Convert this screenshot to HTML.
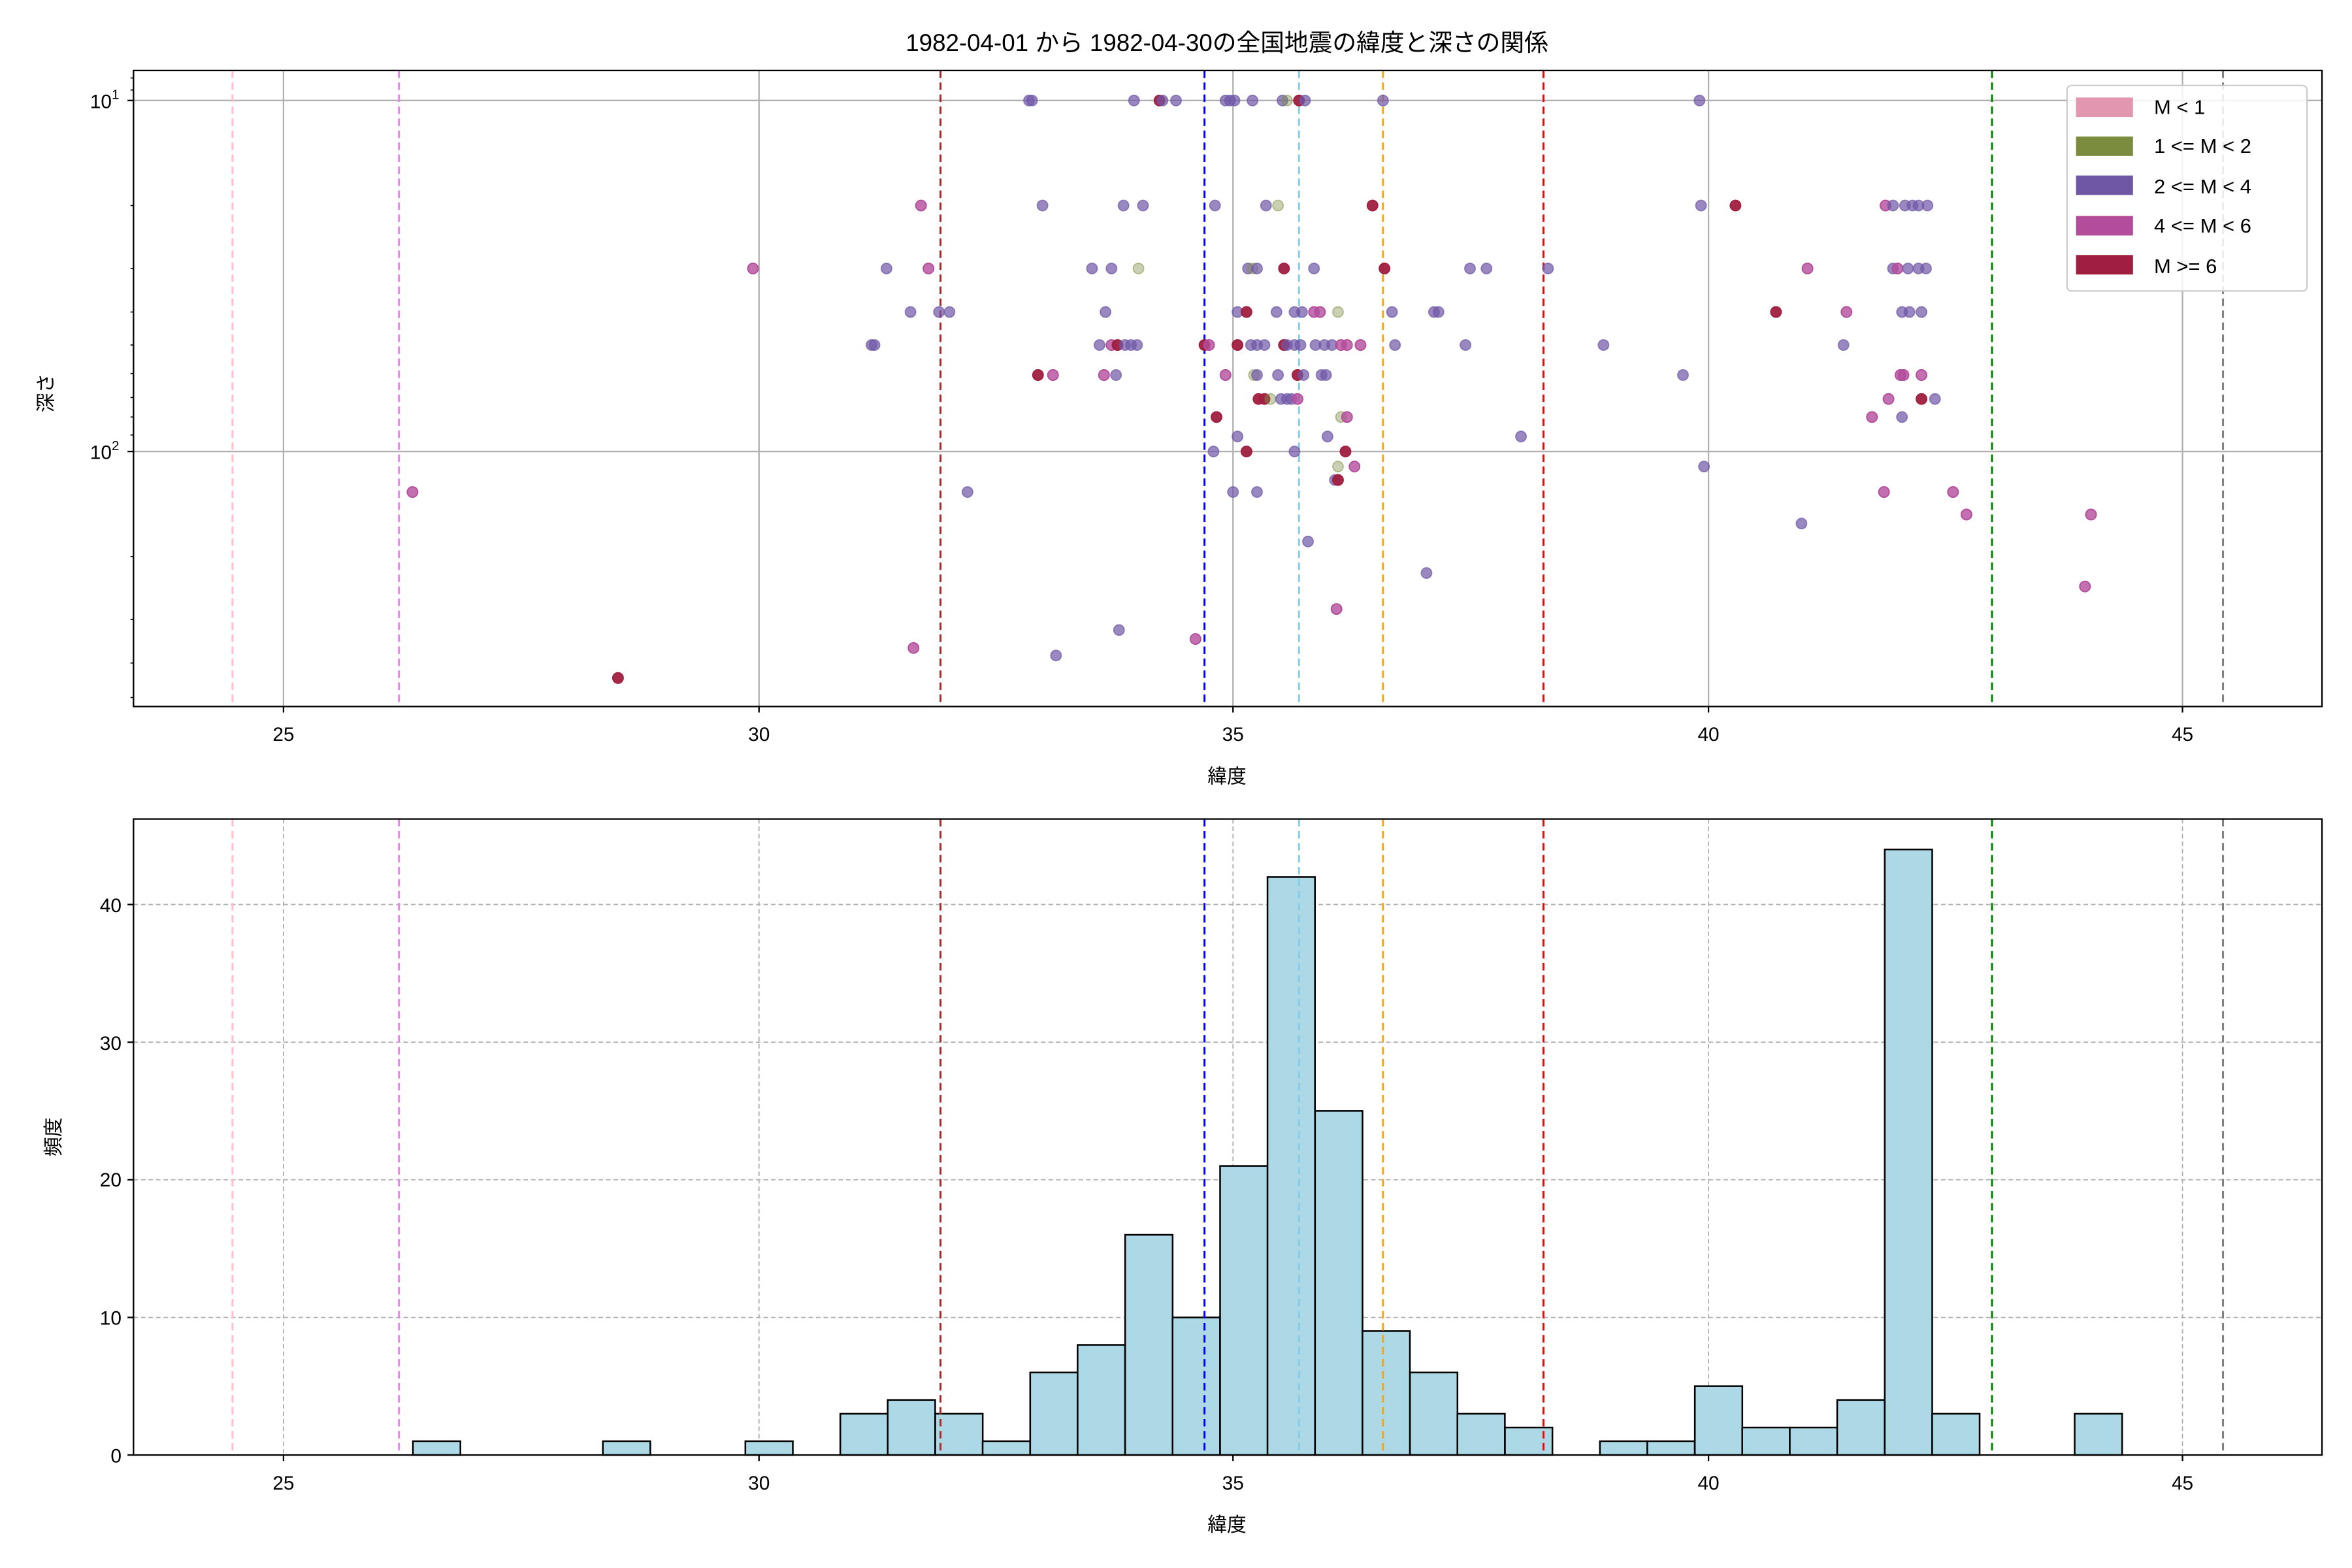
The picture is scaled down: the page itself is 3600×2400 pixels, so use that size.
<!DOCTYPE html>
<html><head><meta charset="utf-8">
<style>
html,body{margin:0;padding:0;background:#fff;}
svg{display:block;}
text{font-family:"Liberation Sans","Noto Sans CJK JP",sans-serif;fill:#000;}
.p{fill:#6f57a6;fill-opacity:.7;stroke:#6f57a6;stroke-opacity:.7;stroke-width:.8}
.m{fill:#b44c9c;fill-opacity:.8;stroke:#b44c9c;stroke-width:.8}
.r{fill:#a01f40;fill-opacity:.95;stroke:#a01f40;stroke-width:.8}
.g{fill:#7b8c3f;fill-opacity:.4;stroke:#7b8c3f;stroke-opacity:.5;stroke-width:.8}
.bar{fill:#add8e6;stroke:#000;stroke-width:1.1}
</style></head><body>
<svg width="3600" height="2400" viewBox="0 0 1568 1045.33" xmlns="http://www.w3.org/2000/svg">
<rect width="1568" height="1046" fill="#fff"/>
<text x="818" y="34" font-size="16" text-anchor="middle">1982-04-01 から 1982-04-30の全国地震の緯度と深さの関係</text>

<!-- TOP AXES -->
<g stroke="#b0b0b0" stroke-width="1">
<line x1="189" y1="47" x2="189" y2="471"/><line x1="506" y1="47" x2="506" y2="471"/><line x1="822" y1="47" x2="822" y2="471"/><line x1="1139" y1="47" x2="1139" y2="471"/><line x1="1455" y1="47" x2="1455" y2="471"/>
<line x1="89" y1="67" x2="1548" y2="67"/><line x1="89" y1="301" x2="1548" y2="301"/>
</g>
<g stroke-width="1.3" stroke-dasharray="5,3" fill="none">
<line x1="155" y1="47" x2="155" y2="471" stroke="pink"/>
<line x1="266" y1="47" x2="266" y2="471" stroke="violet"/>
<line x1="627" y1="47" x2="627" y2="471" stroke="#a52a2a"/>
<line x1="803" y1="47" x2="803" y2="471" stroke="blue"/>
<line x1="866" y1="47" x2="866" y2="471" stroke="skyblue"/>
<line x1="922" y1="47" x2="922" y2="471" stroke="orange"/>
<line x1="1029" y1="47" x2="1029" y2="471" stroke="red"/>
<line x1="1328" y1="47" x2="1328" y2="471" stroke="green"/>
<line x1="1482" y1="47" x2="1482" y2="471" stroke="gray"/>
</g>
<g>
<circle class="p" cx="686" cy="67" r="3.5"/><circle class="p" cx="688" cy="67" r="3.5"/><circle class="p" cx="756" cy="67" r="3.5"/><circle class="r" cx="773" cy="67" r="3.5"/><circle class="p" cx="775" cy="67" r="3.5"/><circle class="p" cx="784" cy="67" r="3.5"/><circle class="p" cx="817" cy="67" r="3.5"/><circle class="p" cx="820" cy="67" r="3.5"/><circle class="p" cx="823" cy="67" r="3.5"/><circle class="p" cx="835" cy="67" r="3.5"/><circle class="p" cx="855" cy="67" r="3.5"/><circle class="g" cx="858" cy="67" r="3.5"/><circle class="r" cx="866" cy="67" r="3.5"/><circle class="p" cx="870" cy="67" r="3.5"/><circle class="p" cx="922" cy="67" r="3.5"/><circle class="p" cx="1133" cy="67" r="3.5"/>
<circle class="m" cx="614" cy="137" r="3.5"/><circle class="p" cx="695" cy="137" r="3.5"/><circle class="p" cx="749" cy="137" r="3.5"/><circle class="p" cx="762" cy="137" r="3.5"/><circle class="p" cx="810" cy="137" r="3.5"/><circle class="p" cx="844" cy="137" r="3.5"/><circle class="g" cx="852" cy="137" r="3.5"/><circle class="r" cx="915" cy="137" r="3.5"/><circle class="p" cx="1134" cy="137" r="3.5"/><circle class="r" cx="1157" cy="137" r="3.5"/><circle class="m" cx="1257" cy="137" r="3.5"/><circle class="p" cx="1262" cy="137" r="3.5"/><circle class="p" cx="1270" cy="137" r="3.5"/><circle class="p" cx="1275" cy="137" r="3.5"/><circle class="p" cx="1279" cy="137" r="3.5"/><circle class="p" cx="1285" cy="137" r="3.5"/>
<circle class="m" cx="502" cy="179" r="3.5"/><circle class="p" cx="591" cy="179" r="3.5"/><circle class="m" cx="619" cy="179" r="3.5"/><circle class="p" cx="728" cy="179" r="3.5"/><circle class="p" cx="741" cy="179" r="3.5"/><circle class="g" cx="759" cy="179" r="3.5"/><circle class="p" cx="832" cy="179" r="3.5"/><circle class="g" cx="835" cy="179" r="3.5"/><circle class="p" cx="838" cy="179" r="3.5"/><circle class="r" cx="856" cy="179" r="3.5"/><circle class="p" cx="876" cy="179" r="3.5"/><circle class="r" cx="923" cy="179" r="3.5"/><circle class="p" cx="980" cy="179" r="3.5"/><circle class="p" cx="991" cy="179" r="3.5"/><circle class="p" cx="1032" cy="179" r="3.5"/><circle class="m" cx="1205" cy="179" r="3.5"/><circle class="p" cx="1262" cy="179" r="3.5"/><circle class="m" cx="1265" cy="179" r="3.5"/><circle class="p" cx="1272" cy="179" r="3.5"/><circle class="p" cx="1279" cy="179" r="3.5"/><circle class="p" cx="1284" cy="179" r="3.5"/>
<circle class="p" cx="607" cy="208" r="3.5"/><circle class="p" cx="626" cy="208" r="3.5"/><circle class="p" cx="633" cy="208" r="3.5"/><circle class="p" cx="737" cy="208" r="3.5"/><circle class="p" cx="825" cy="208" r="3.5"/><circle class="r" cx="831" cy="208" r="3.5"/><circle class="p" cx="851" cy="208" r="3.5"/><circle class="p" cx="863" cy="208" r="3.5"/><circle class="p" cx="868" cy="208" r="3.5"/><circle class="m" cx="876" cy="208" r="3.5"/><circle class="m" cx="880" cy="208" r="3.5"/><circle class="g" cx="892" cy="208" r="3.5"/><circle class="p" cx="928" cy="208" r="3.5"/><circle class="p" cx="956" cy="208" r="3.5"/><circle class="p" cx="959" cy="208" r="3.5"/><circle class="r" cx="1184" cy="208" r="3.5"/><circle class="m" cx="1231" cy="208" r="3.5"/><circle class="p" cx="1268" cy="208" r="3.5"/><circle class="p" cx="1273" cy="208" r="3.5"/><circle class="p" cx="1281" cy="208" r="3.5"/>
<circle class="p" cx="581" cy="230" r="3.5"/><circle class="p" cx="583" cy="230" r="3.5"/><circle class="p" cx="733" cy="230" r="3.5"/><circle class="m" cx="741" cy="230" r="3.5"/><circle class="r" cx="745" cy="230" r="3.5"/><circle class="p" cx="750" cy="230" r="3.5"/><circle class="p" cx="754" cy="230" r="3.5"/><circle class="p" cx="758" cy="230" r="3.5"/><circle class="r" cx="803" cy="230" r="3.5"/><circle class="m" cx="806" cy="230" r="3.5"/><circle class="r" cx="825" cy="230" r="3.5"/><circle class="p" cx="834" cy="230" r="3.5"/><circle class="p" cx="838" cy="230" r="3.5"/><circle class="p" cx="843" cy="230" r="3.5"/><circle class="r" cx="856" cy="230" r="3.5"/><circle class="p" cx="858" cy="230" r="3.5"/><circle class="p" cx="863" cy="230" r="3.5"/><circle class="p" cx="867" cy="230" r="3.5"/><circle class="p" cx="877" cy="230" r="3.5"/><circle class="p" cx="883" cy="230" r="3.5"/><circle class="p" cx="888" cy="230" r="3.5"/><circle class="m" cx="894" cy="230" r="3.5"/><circle class="m" cx="898" cy="230" r="3.5"/><circle class="m" cx="907" cy="230" r="3.5"/><circle class="p" cx="930" cy="230" r="3.5"/><circle class="p" cx="977" cy="230" r="3.5"/><circle class="p" cx="1069" cy="230" r="3.5"/><circle class="p" cx="1229" cy="230" r="3.5"/>
<circle class="r" cx="692" cy="250" r="3.5"/><circle class="m" cx="702" cy="250" r="3.5"/><circle class="m" cx="736" cy="250" r="3.5"/><circle class="p" cx="744" cy="250" r="3.5"/><circle class="m" cx="817" cy="250" r="3.5"/><circle class="g" cx="836" cy="250" r="3.5"/><circle class="p" cx="838" cy="250" r="3.5"/><circle class="p" cx="852" cy="250" r="3.5"/><circle class="r" cx="865" cy="250" r="3.5"/><circle class="p" cx="869" cy="250" r="3.5"/><circle class="p" cx="881" cy="250" r="3.5"/><circle class="p" cx="884" cy="250" r="3.5"/><circle class="p" cx="1122" cy="250" r="3.5"/><circle class="m" cx="1267" cy="250" r="3.5"/><circle class="m" cx="1269" cy="250" r="3.5"/><circle class="m" cx="1281" cy="250" r="3.5"/>
<circle class="r" cx="839" cy="266" r="3.5"/><circle class="r" cx="843" cy="266" r="3.5"/><circle class="g" cx="847" cy="266" r="3.5"/><circle class="p" cx="854" cy="266" r="3.5"/><circle class="p" cx="858" cy="266" r="3.5"/><circle class="p" cx="861" cy="266" r="3.5"/><circle class="m" cx="865" cy="266" r="3.5"/><circle class="m" cx="1259" cy="266" r="3.5"/><circle class="r" cx="1281" cy="266" r="3.5"/><circle class="p" cx="1290" cy="266" r="3.5"/>
<circle class="r" cx="811" cy="278" r="3.5"/><circle class="g" cx="894" cy="278" r="3.5"/><circle class="m" cx="898" cy="278" r="3.5"/><circle class="m" cx="1248" cy="278" r="3.5"/><circle class="p" cx="1268" cy="278" r="3.5"/>
<circle class="p" cx="825" cy="291" r="3.5"/><circle class="p" cx="885" cy="291" r="3.5"/><circle class="p" cx="1014" cy="291" r="3.5"/>
<circle class="p" cx="809" cy="301" r="3.5"/><circle class="r" cx="831" cy="301" r="3.5"/><circle class="p" cx="863" cy="301" r="3.5"/><circle class="r" cx="897" cy="301" r="3.5"/>
<circle class="g" cx="892" cy="311" r="3.5"/><circle class="m" cx="903" cy="311" r="3.5"/><circle class="p" cx="1136" cy="311" r="3.5"/>
<circle class="p" cx="890" cy="320" r="3.5"/><circle class="r" cx="892" cy="320" r="3.5"/>
<circle class="m" cx="275" cy="328" r="3.5"/><circle class="p" cx="645" cy="328" r="3.5"/><circle class="p" cx="822" cy="328" r="3.5"/><circle class="p" cx="838" cy="328" r="3.5"/><circle class="m" cx="1256" cy="328" r="3.5"/><circle class="m" cx="1302" cy="328" r="3.5"/>
<circle class="m" cx="1311" cy="343" r="3.5"/><circle class="m" cx="1394" cy="343" r="3.5"/>
<circle class="p" cx="1201" cy="349" r="3.5"/>
<circle class="p" cx="872" cy="361" r="3.5"/>
<circle class="p" cx="951" cy="382" r="3.5"/>
<circle class="m" cx="1390" cy="391" r="3.5"/>
<circle class="m" cx="891" cy="406" r="3.5"/>
<circle class="p" cx="746" cy="420" r="3.5"/>
<circle class="m" cx="797" cy="426" r="3.5"/>
<circle class="m" cx="609" cy="432" r="3.5"/>
<circle class="p" cx="704" cy="437" r="3.5"/>
<circle class="r" cx="412" cy="452" r="3.5"/>
</g>
<rect x="89" y="47" width="1459" height="424" fill="none" stroke="#000" stroke-width="1"/>
<!-- top ticks -->
<g stroke="#000" stroke-width="1">
<line x1="189" y1="471" x2="189" y2="475"/><line x1="506" y1="471" x2="506" y2="475"/><line x1="822" y1="471" x2="822" y2="475"/><line x1="1139" y1="471" x2="1139" y2="475"/><line x1="1455" y1="471" x2="1455" y2="475"/>
<line x1="85" y1="67" x2="89" y2="67"/><line x1="85" y1="301" x2="89" y2="301"/>
</g>
<g stroke="#000" stroke-width=".7">
<line x1="87" y1="60" x2="89" y2="60"/><line x1="87" y1="52" x2="89" y2="52"/>
<line x1="87" y1="137" x2="89" y2="137"/><line x1="87" y1="179" x2="89" y2="179"/><line x1="87" y1="208" x2="89" y2="208"/><line x1="87" y1="230" x2="89" y2="230"/><line x1="87" y1="249" x2="89" y2="249"/><line x1="87" y1="265" x2="89" y2="265"/><line x1="87" y1="278" x2="89" y2="278"/><line x1="87" y1="290" x2="89" y2="290"/>
<line x1="87" y1="371" x2="89" y2="371"/><line x1="87" y1="413" x2="89" y2="413"/><line x1="87" y1="442" x2="89" y2="442"/><line x1="87" y1="465" x2="89" y2="465"/>
</g>
<g font-size="13" text-anchor="middle">
<text x="189" y="494">25</text><text x="506" y="494">30</text><text x="822" y="494">35</text><text x="1139" y="494">40</text><text x="1455" y="494">45</text>
</g>
<text x="60" y="72" font-size="13">10<tspan font-size="9" dy="-6">1</tspan></text>
<text x="60" y="306" font-size="13">10<tspan font-size="9" dy="-6">2</tspan></text>
<text x="818" y="522" font-size="13" text-anchor="middle">緯度</text>
<text transform="translate(35,262) rotate(-90)" font-size="13" text-anchor="middle">深さ</text>
<!-- legend -->
<rect x="1378" y="57" width="160" height="137" rx="3" fill="#fff" fill-opacity=".85" stroke="#ccc" stroke-width="1"/>
<rect x="1384" y="65" width="38" height="13" fill="#e396b0"/>
<rect x="1384" y="91" width="38" height="13" fill="#7b8c3f"/>
<rect x="1384" y="117" width="38" height="13" fill="#6f57a6"/>
<rect x="1384" y="144" width="38" height="13" fill="#b44c9c"/>
<rect x="1384" y="170" width="38" height="13" fill="#a01f40"/>
<g font-size="13.5">
<text x="1436" y="76">M &lt; 1</text>
<text x="1436" y="102">1 &lt;= M &lt; 2</text>
<text x="1436" y="129">2 &lt;= M &lt; 4</text>
<text x="1436" y="155">4 &lt;= M &lt; 6</text>
<text x="1436" y="182">M &gt;= 6</text>
</g>

<!-- BOTTOM AXES -->
<g stroke="#b0b0b0" stroke-width=".8" stroke-dasharray="3,2">
<line x1="189" y1="546" x2="189" y2="970"/><line x1="506" y1="546" x2="506" y2="970"/><line x1="822" y1="546" x2="822" y2="970"/><line x1="1139" y1="546" x2="1139" y2="970"/><line x1="1455" y1="546" x2="1455" y2="970"/>
<line x1="89" y1="878.3" x2="1548" y2="878.3"/><line x1="89" y1="786.5" x2="1548" y2="786.5"/><line x1="89" y1="694.8" x2="1548" y2="694.8"/><line x1="89" y1="603" x2="1548" y2="603"/>
</g>
<g>
<rect class="bar" x="275.3" y="960.8" width="31.65" height="9.2"/>
<rect class="bar" x="401.9" y="960.8" width="31.65" height="9.2"/>
<rect class="bar" x="496.9" y="960.8" width="31.65" height="9.2"/>
<rect class="bar" x="560.2" y="942.5" width="31.65" height="27.5"/>
<rect class="bar" x="591.8" y="933.3" width="31.65" height="36.7"/>
<rect class="bar" x="623.5" y="942.5" width="31.65" height="27.5"/>
<rect class="bar" x="655.1" y="960.8" width="31.65" height="9.2"/>
<rect class="bar" x="686.8" y="915" width="31.65" height="55"/>
<rect class="bar" x="718.4" y="896.6" width="31.65" height="73.4"/>
<rect class="bar" x="750.1" y="823.2" width="31.65" height="146.8"/>
<rect class="bar" x="781.7" y="878.3" width="31.65" height="91.7"/>
<rect class="bar" x="813.4" y="777.3" width="31.65" height="192.7"/>
<rect class="bar" x="845" y="584.7" width="31.65" height="385.3"/>
<rect class="bar" x="876.7" y="740.6" width="31.65" height="229.4"/>
<rect class="bar" x="908.3" y="887.4" width="31.65" height="82.6"/>
<rect class="bar" x="940" y="915" width="31.65" height="55"/>
<rect class="bar" x="971.6" y="942.5" width="31.65" height="27.5"/>
<rect class="bar" x="1003.3" y="951.7" width="31.65" height="18.3"/>
<rect class="bar" x="1066.6" y="960.8" width="31.65" height="9.2"/>
<rect class="bar" x="1098.2" y="960.8" width="31.65" height="9.2"/>
<rect class="bar" x="1129.9" y="924.1" width="31.65" height="45.9"/>
<rect class="bar" x="1161.5" y="951.7" width="31.65" height="18.3"/>
<rect class="bar" x="1193.2" y="951.7" width="31.65" height="18.3"/>
<rect class="bar" x="1224.8" y="933.3" width="31.65" height="36.7"/>
<rect class="bar" x="1256.5" y="566.3" width="31.65" height="403.7"/>
<rect class="bar" x="1288.1" y="942.5" width="31.65" height="27.5"/>
<rect class="bar" x="1383.1" y="942.5" width="31.65" height="27.5"/>
</g>
<g stroke-width="1.3" stroke-dasharray="5,3" fill="none">
<line x1="155" y1="546" x2="155" y2="970" stroke="pink"/>
<line x1="266" y1="546" x2="266" y2="970" stroke="violet"/>
<line x1="627" y1="546" x2="627" y2="970" stroke="#a52a2a"/>
<line x1="803" y1="546" x2="803" y2="970" stroke="blue"/>
<line x1="866" y1="546" x2="866" y2="970" stroke="skyblue"/>
<line x1="922" y1="546" x2="922" y2="970" stroke="orange"/>
<line x1="1029" y1="546" x2="1029" y2="970" stroke="red"/>
<line x1="1328" y1="546" x2="1328" y2="970" stroke="green"/>
<line x1="1482" y1="546" x2="1482" y2="970" stroke="gray"/>
</g>
<rect x="89" y="546" width="1459" height="424" fill="none" stroke="#000" stroke-width="1"/>
<g stroke="#000" stroke-width="1">
<line x1="189" y1="970" x2="189" y2="974"/><line x1="506" y1="970" x2="506" y2="974"/><line x1="822" y1="970" x2="822" y2="974"/><line x1="1139" y1="970" x2="1139" y2="974"/><line x1="1455" y1="970" x2="1455" y2="974"/>
<line x1="85" y1="970" x2="89" y2="970"/><line x1="85" y1="878.3" x2="89" y2="878.3"/><line x1="85" y1="786.5" x2="89" y2="786.5"/><line x1="85" y1="694.8" x2="89" y2="694.8"/><line x1="85" y1="603" x2="89" y2="603"/>
</g>
<g font-size="13" text-anchor="middle">
<text x="189" y="993">25</text><text x="506" y="993">30</text><text x="822" y="993">35</text><text x="1139" y="993">40</text><text x="1455" y="993">45</text>
</g>
<g font-size="13" text-anchor="end">
<text x="81" y="975">0</text><text x="81" y="883">10</text><text x="81" y="791">20</text><text x="81" y="700">30</text><text x="81" y="608">40</text>
</g>
<text x="818" y="1021" font-size="13" text-anchor="middle">緯度</text>
<text transform="translate(40,758) rotate(-90)" font-size="13" text-anchor="middle">頻度</text>
</svg>
</body></html>
